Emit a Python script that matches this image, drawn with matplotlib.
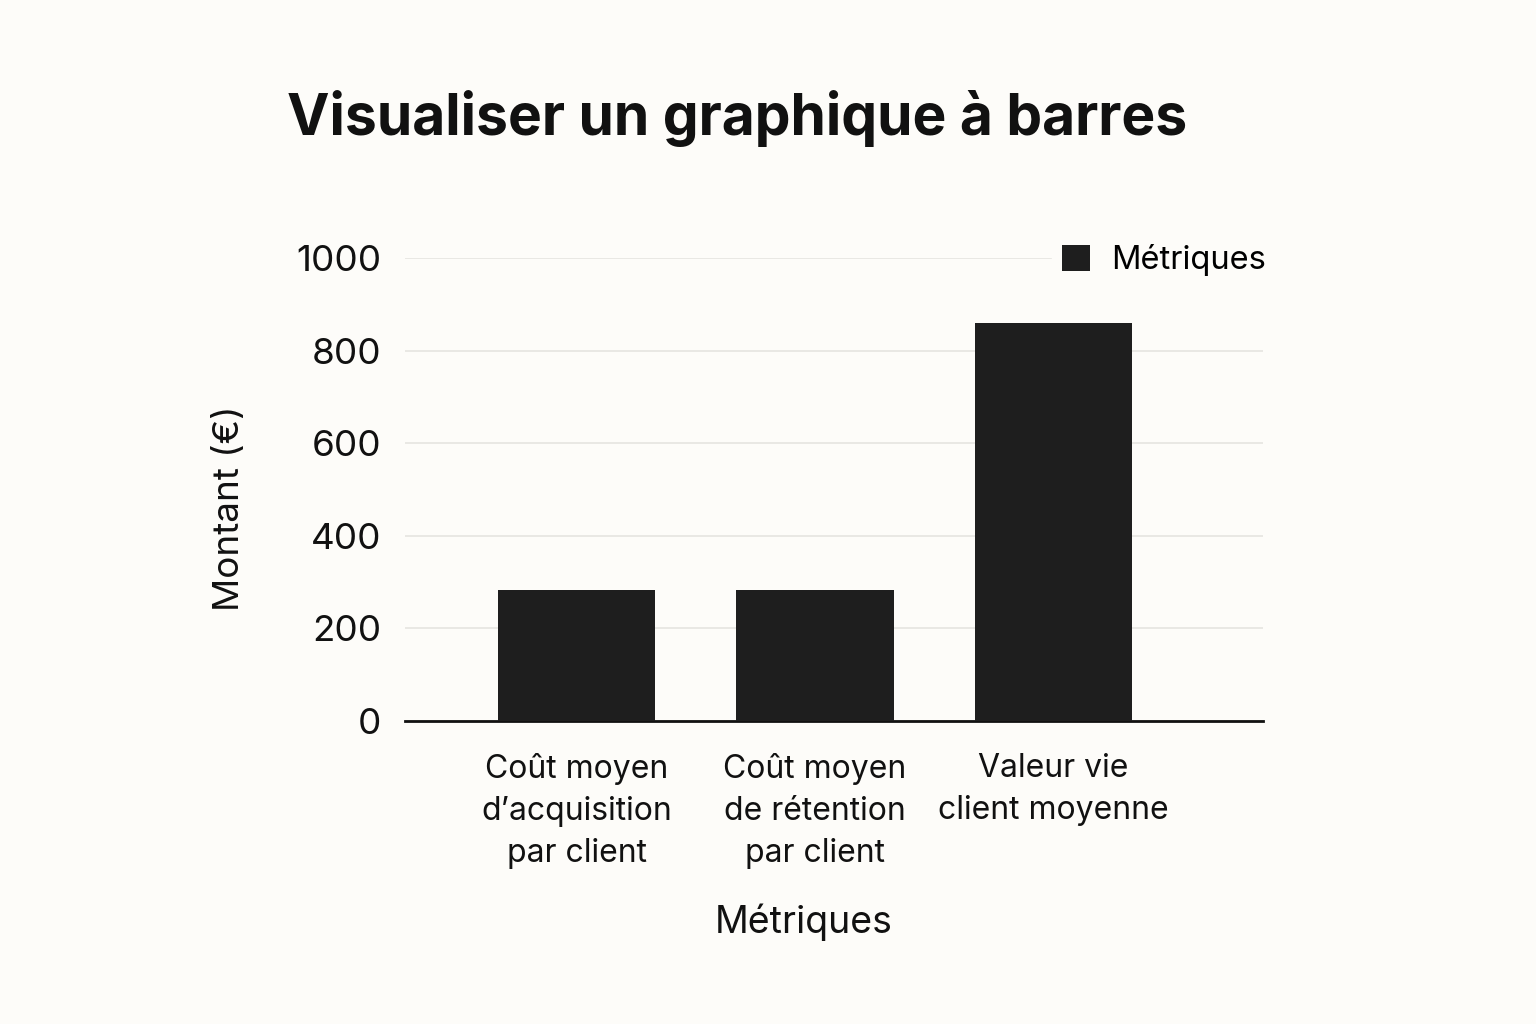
import matplotlib.pyplot as plt

# data
categories = ["Coût moyen\nd’acquisition\npar client",
              "Coût moyen\nde rétention\npar client",
              "Valeur vie\nclient moyenne"]
values = [283, 283, 860]
y_ticks = [0, 200, 400, 600, 800, 1000]
series_name = "Métriques"

bg = "#fdfcf9"
bar_color = "#1e1e1e"

plt.rcParams['font.family'] = ['Inter', 'DejaVu Sans']

fig = plt.figure(figsize=(15.36, 10.24), dpi=100, facecolor=bg)
ax = fig.add_axes([0.2637, 0.2959, 0.5586, 0.4521])
ax.set_facecolor(bg)

x = list(range(len(categories)))
ax.bar(x, values, width=0.66, color=bar_color, label=series_name, zorder=3)

ax.set_xlim(-0.72, 2.88)
ax.set_ylim(0, 1000)
ax.set_yticks(y_ticks)
ax.set_yticklabels([str(v) for v in y_ticks], fontsize=26.5, color="#111111")
ax.set_xticks(x)
ax.set_xticklabels(categories, fontsize=23, color="#111111", linespacing=1.45)
ax.tick_params(axis='both', length=0)
ax.tick_params(axis='y', pad=17)
ax.tick_params(axis='x', pad=23)

ax.grid(axis='y', color="#e6e4e0", linewidth=1.2, zorder=0)
ax.set_axisbelow(True)
for s in ['top', 'right', 'left']:
    ax.spines[s].set_visible(False)
ax.spines['bottom'].set_linewidth(2)
ax.spines['bottom'].set_color("#111111")

ax.set_ylabel("Montant (€)", fontsize=26.5, color="#111111", labelpad=36)
ax.yaxis.label.set_y(0.46)
ax.set_xlabel("Métriques", fontsize=27, color="#111111", labelpad=25)
ax.xaxis.label.set_x(0.465)

leg = ax.legend(loc='center left', bbox_to_anchor=(0.735, 0.995), frameon=True,
                fontsize=23.5, handlelength=0.85, handleheight=0.85,
                handletextpad=0.65, borderpad=0.3)
leg.get_frame().set_facecolor(bg)
leg.get_frame().set_edgecolor(bg)
leg.get_frame().set_alpha(1)

fig.text(0.187, 0.884, "Visualiser un graphique à barres", fontsize=41,
         fontweight='bold', color="#111111", ha='left', va='center')

fig.savefig("out.png", dpi=100, facecolor=bg)
